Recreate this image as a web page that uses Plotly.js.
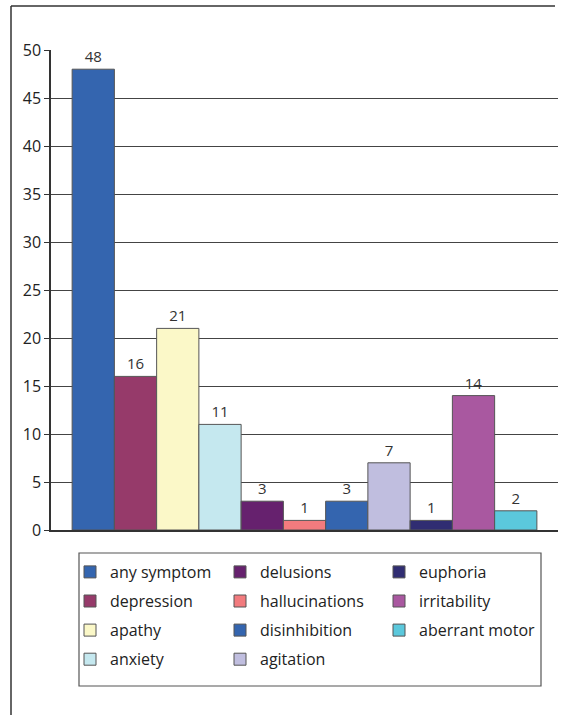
<!DOCTYPE html>
<html>
<head>
<meta charset="utf-8">
<script src="https://cdn.plot.ly/plotly-3.0.1.min.js"></script>
<style>html,body{margin:0;padding:0;background:#fff;}#chart{width:563px;height:715px;}</style>
</head>
<body>
<div id="chart"></div>
<script>
var categories = ["any symptom","depression","apathy","anxiety","delusions","hallucinations","disinhibition","agitation","euphoria","irritability","aberrant motor"];
var values = [48,16,21,11,3,1,3,7,1,14,2];
var yTicks = [0,5,10,15,20,25,30,35,40,45,50];

var colors = ["#3465AF","#963A6A","#FBF8C8","#C5E8EF","#66216E","#F27B7E","#3465AF","#C0BEDF","#302D72","#A958A0","#5BC8DC"];
var legendOf = ["legend","legend","legend","legend","legend2","legend2","legend2","legend2","legend3","legend3","legend3"];

var FONT = "Open Sans, sans-serif";
var traces = categories.map(function(c, i){
  return {
    type: "bar",
    name: c,
    x: [i],
    y: [values[i]],
    width: 1,
    text: [String(values[i])],
    textposition: "outside",
    textfont: {family: FONT, size: 15, color: "#333"},
    marker: {color: colors[i], line: {color: "#555", width: 1}},
    legend: legendOf[i],
    legendgroup: "g" + i,
    hoverinfo: "name+y",
    cliponaxis: false
  };
});

function px2x(p){ return (p - 51) / 507; }
function px2y(p){ return (530 - p) / 480; }

var legendBase = {
  orientation: "v",
  xanchor: "left", yanchor: "top",
  y: px2y(555),
  bgcolor: "rgba(0,0,0,0)",
  borderwidth: 0,
  tracegroupgap: 5.3,
  font: {family: FONT, size: 16, color: "#222"}
};
function leg(xp){ var o = JSON.parse(JSON.stringify(legendBase)); o.x = px2x(xp); return o; }

var layout = {
  width: 563, height: 715,
  margin: {l: 51, r: 5, t: 50, b: 185},
  paper_bgcolor: "#fff", plot_bgcolor: "#fff",
  barmode: "overlay",
  showlegend: true,
  legend: leg(70),
  legend2: leg(220),
  legend3: leg(379),
  xaxis: {
    range: [-1, 11],
    showticklabels: false, ticks: "", showgrid: false, zeroline: false,
    showline: true, linecolor: "#333", linewidth: 1.5,
    fixedrange: true
  },
  yaxis: {
    range: [0, 50],
    tickvals: yTicks,
    ticks: "outside", ticklen: 5, tickcolor: "#333",
    showline: true, linecolor: "#333", linewidth: 1.5,
    showgrid: true, gridcolor: "#444", gridwidth: 1,
    zeroline: false,
    tickfont: {family: FONT, size: 16, color: "#222"},
    fixedrange: true
  },
  shapes: [
    {type: "rect", xref: "paper", yref: "paper",
     x0: px2x(79), x1: px2x(541), y0: px2y(686), y1: px2y(553),
     line: {color: "#555", width: 1.2}, fillcolor: "rgba(0,0,0,0)"},
    {type: "line", xref: "paper", yref: "paper",
     x0: px2x(11), x1: px2x(555), y0: px2y(6), y1: px2y(6),
     line: {color: "#666", width: 2}},
    {type: "line", xref: "paper", yref: "paper",
     x0: px2x(11), x1: px2x(11), y0: px2y(6), y1: px2y(716),
     line: {color: "#333", width: 1.5}}
  ]
};

Plotly.newPlot("chart", traces, layout, {displayModeBar: false, staticPlot: false});
</script>
</body>
</html>
